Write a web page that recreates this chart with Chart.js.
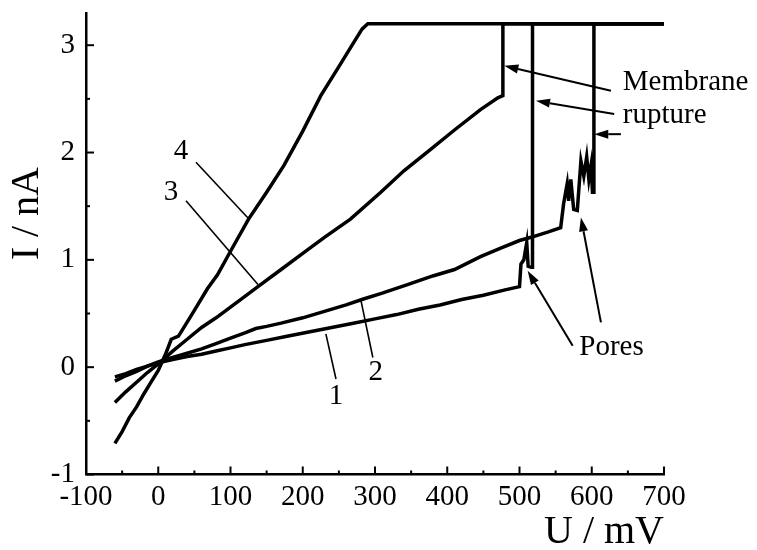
<!DOCTYPE html>
<html><head><meta charset="utf-8">
<script src="https://cdn.jsdelivr.net/npm/chart.js@4/dist/chart.umd.min.js"></script>
<style>html,body{margin:0;padding:0;background:#fff}canvas{display:block}</style>
</head><body>
<canvas id="c" width="757" height="550"></canvas>
<script>
// ---- data (U in mV, I in nA) ----
const u1 = [-60,-45,-30,-15,0,20,40,60,80,100,120,150,180,210,240,270,300,330,360,390,420,450,480,500,502,506,510,512,516,518,518,700];
const i1 = [-0.09,-0.06,-0.02,0.01,0.04,0.07,0.10,0.12,0.15,0.18,0.21,0.25,0.29,0.33,0.37,0.41,0.45,0.49,0.54,0.58,0.63,0.67,0.72,0.75,0.96,1.00,1.16,0.94,0.93,0.93,3.20,3.20];

const u2 = [-60,-45,-30,-15,0,20,40,60,80,100,120,135,150,170,200,230,260,284,310,345,380,410,446,474,500,516,540,557,561,566,568,571,575,580,585,589,593,596,599,601,603,603,700];
const i2 = [-0.13,-0.08,-0.04,0.01,0.05,0.09,0.13,0.17,0.22,0.27,0.32,0.36,0.38,0.41,0.46,0.52,0.58,0.635,0.69,0.77,0.85,0.91,1.03,1.11,1.18,1.21,1.26,1.30,1.52,1.71,1.55,1.75,1.47,1.46,1.92,1.78,1.96,1.75,1.88,1.63,1.63,3.20,3.20];

const u3 = [-60,-45,-30,-15,0,20,40,60,80,100,120,138,170,200,230,266,308,340,377,410,446,470,477,477,700];
const i3 = [-0.33,-0.23,-0.14,-0.05,0.03,0.15,0.26,0.37,0.46,0.56,0.66,0.75,0.91,1.06,1.21,1.38,1.63,1.83,2.03,2.21,2.40,2.51,2.53,3.20,3.20];

const u4 = [-60,-50,-40,-30,-20,-10,0,10,18,28,40,50,68,82,100,125,150,174,200,225,250,270,282,290,700];
const i4 = [-0.71,-0.60,-0.47,-0.37,-0.25,-0.14,-0.03,0.12,0.26,0.29,0.42,0.53,0.73,0.86,1.08,1.38,1.63,1.88,2.20,2.53,2.80,3.02,3.15,3.20,3.20];

// tick labels
const xTickLabels = [-100,0,100,200,300,400,500,600,700];
const yTickLabels = [-1,0,1,2,3];

// annotations in data units
const curveLabels = [
  {t:'1', u:246, i:-0.27, lu1:246, li1:-0.11, lu2:232, li2:0.31},
  {t:'2', u:301, i:-0.05, lu1:297, li1:0.09, lu2:280.6, li2:0.62},
  {t:'3', u:17.6, i:1.63, lu1:38.4, li1:1.55, lu2:138, li2:0.77},
  {t:'4', u:31.4, i:2.01, lu1:52.2, li1:1.91, lu2:125.5, li2:1.38}
];
const noteTexts = [
  {t:'Membrane', u:643, i:2.586},
  {t:'rupture', u:643, i:2.274},
  {t:'Pores', u:582.7, i:0.112}
];
const arrows = [
  {u1:626.6, i1:2.575, u2:479, i2:2.808},
  {u1:631.1, i1:2.358, u2:522.8, i2:2.482},
  {u1:640.4, i1:2.171, u2:603.5, i2:2.171},
  {u1:573.6, i1:0.199, u2:511.3, i2:0.898},
  {u1:612.7, i1:0.417, u2:585, i2:1.395}
];

const FONT = "'Liberation Serif','Times New Roman',serif";
const pts = (u, v) => u.map((x, k) => ({x: x, y: v[k]}));
const ds = (u, v) => ({data: pts(u, v), borderColor: '#000', borderWidth: 3.5, pointRadius: 0, tension: 0, fill: false, showLine: true});

const decor = {
  id: 'decor',
  afterDraw(chart) {
    const ctx = chart.ctx, xs = chart.scales.x, ys = chart.scales.y, a = chart.chartArea;
    const X = u => xs.getPixelForValue(u), Y = v => ys.getPixelForValue(v);
    ctx.save();
    ctx.strokeStyle = '#000'; ctx.fillStyle = '#000';
    // inward ticks
    ctx.lineWidth = 2;
    xs.ticks.forEach(t => {
      const major = xTickLabels.some(v => Math.abs(v - t.value) < 1e-6);
      const x = X(t.value);
      ctx.beginPath(); ctx.moveTo(x, a.bottom); ctx.lineTo(x, a.bottom - (major ? 8 : 4)); ctx.stroke();
    });
    ys.ticks.forEach(t => {
      const major = yTickLabels.some(v => Math.abs(v - t.value) < 1e-6);
      const y = Y(t.value);
      ctx.beginPath(); ctx.moveTo(a.left, y); ctx.lineTo(a.left + (major ? 8 : 4), y); ctx.stroke();
    });
    // curve number labels with leader lines
    ctx.lineWidth = 1.6;
    ctx.font = '29px ' + FONT;
    ctx.textAlign = 'center'; ctx.textBaseline = 'middle';
    curveLabels.forEach(c => {
      ctx.beginPath(); ctx.moveTo(X(c.lu1), Y(c.li1)); ctx.lineTo(X(c.lu2), Y(c.li2)); ctx.stroke();
      ctx.fillText(c.t, X(c.u), Y(c.i));
    });
    // arrows
    ctx.lineWidth = 2;
    arrows.forEach(r => {
      const x1 = X(r.u1), y1 = Y(r.i1), x2 = X(r.u2), y2 = Y(r.i2);
      const ang = Math.atan2(y2 - y1, x2 - x1), L = 14, W = 4.5;
      const bx = x2 - L * Math.cos(ang), by = y2 - L * Math.sin(ang);
      ctx.beginPath(); ctx.moveTo(x1, y1); ctx.lineTo(bx, by); ctx.stroke();
      ctx.beginPath();
      ctx.moveTo(x2, y2);
      ctx.lineTo(bx + W * Math.sin(ang), by - W * Math.cos(ang));
      ctx.lineTo(bx - W * Math.sin(ang), by + W * Math.cos(ang));
      ctx.closePath(); ctx.fill();
    });
    // note texts
    ctx.textAlign = 'left'; ctx.textBaseline = 'alphabetic';
    noteTexts.forEach(n => ctx.fillText(n.t, X(n.u), Y(n.i)));
    // y axis title
    ctx.font = '40px ' + FONT;
    ctx.textAlign = 'center'; ctx.textBaseline = 'middle';
    ctx.translate(27, Y(1.43));
    ctx.rotate(-Math.PI / 2);
    ctx.fillText('I / nA', 0, 0);
    ctx.restore();
  }
};

new Chart(document.getElementById('c'), {
  type: 'line',
  data: {datasets: [ds(u1, i1), ds(u2, i2), ds(u3, i3), ds(u4, i4)]},
  options: {
    responsive: false, animation: false, devicePixelRatio: 1,
    layout: {padding: {left: 0, right: 93, top: 13, bottom: 0}},
    plugins: {legend: {display: false}, tooltip: {enabled: false}},
    scales: {
      x: {
        type: 'linear', min: -100, max: 700,
        ticks: {stepSize: 50, includeBounds: false, padding: 5, color: '#000', font: {family: FONT, size: 29},
          maxRotation: 0, autoSkip: false,
          callback: v => xTickLabels.some(t => Math.abs(t - v) < 1e-6) ? String(Math.round(v)) : ''},
        grid: {display: false, drawTicks: false},
        border: {display: true, color: '#000', width: 2.5},
        title: {display: true, text: 'U / mV', align: 'end', color: '#000', font: {family: FONT, size: 40, lineHeight: 0.9}, padding: {top: 0, bottom: 0}},
        afterFit: s => { s.height = 75.5; s.paddingLeft = 0; s.paddingRight = 0; }
      },
      y: {
        type: 'linear', min: -1, max: 3.3,
        ticks: {stepSize: 0.5, includeBounds: false, padding: 11, color: '#000', font: {family: FONT, size: 29}, autoSkip: false,
          callback: v => yTickLabels.some(t => Math.abs(t - v) < 1e-6) ? String(Math.round(v)) : ''},
        grid: {display: false, drawTicks: false},
        border: {display: true, color: '#000', width: 2.5},
        afterFit: s => { s.width = 86; s.paddingTop = 0; s.paddingBottom = 0; }
      }
    }
  },
  plugins: [decor]
});
</script>
</body></html>
